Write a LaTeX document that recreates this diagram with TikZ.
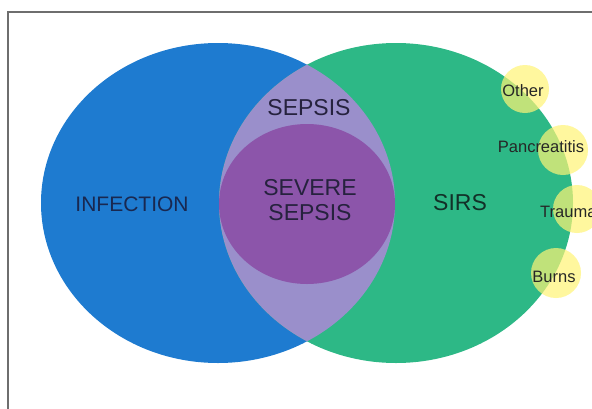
\documentclass[tikz,border=0pt]{standalone}
\usepackage{fontspec}
\setmainfont{Liberation Sans}
\definecolor{infblue}{RGB}{30,123,208}
\definecolor{sirsgreen}{RGB}{45,184,134}
\definecolor{lav}{RGB}{154,143,203}
\definecolor{sevpurple}{RGB}{140,85,170}
\definecolor{yel}{RGB}{255,244,117}
\definecolor{framegray}{RGB}{110,110,110}
\definecolor{txtdark}{RGB}{38,34,62}
\definecolor{txtgreen}{RGB}{18,48,40}
\begin{document}
\begin{tikzpicture}[x=1pt,y=-1pt,
  bigtxt/.style={font=\fontsize{23}{25}\selectfont, text=txtdark, align=center, inner sep=0pt},
  smalltxt/.style={font=\fontsize{16.5}{18}\selectfont, text=black!85, inner sep=0pt},
  bubble/.style={fill=yel, fill opacity=0.7, draw=none}]
\useasboundingbox (0,0) rectangle (592,408);
\fill[white] (0,0) rectangle (592,408);
% frame
\draw[framegray, line width=1.2pt] (8,410) -- (8,12) -- (594,12);
% infection
\fill[infblue] (218,203) ellipse [x radius=177, y radius=160];
% sirs
\fill[sirsgreen] (396,203) ellipse [x radius=177, y radius=160];
% sepsis lens
\begin{scope}
  \clip (218,203) ellipse [x radius=177, y radius=160];
  \fill[lav] (396,203) ellipse [x radius=177, y radius=160];
\end{scope}
% severe sepsis
\fill[sevpurple] (307,204) ellipse [x radius=88, y radius=80];
% bubbles
\node[bubble, circle, minimum size=48pt] (cOther) at (525,89) {};
\node[bubble, circle, minimum size=50pt] (cPanc) at (563,150) {};
\node[bubble, circle, minimum size=48pt] (cTrauma) at (577,209) {};
\node[bubble, circle, minimum size=50pt] (cBurns) at (556,273) {};
% labels
\node[bigtxt, font=\fontsize{21}{25}\selectfont, text={rgb,255:red,25;green,40;blue,80}] (infection) at (132,204) {INFECTION};
\node[bigtxt] (sepsis) at (309,108) {SEPSIS};
\node[bigtxt] (severe) at (310,200) {SEVERE\\SEPSIS};
\node[bigtxt, text=txtgreen] (sirs) at (460,203) {SIRS};
\node[smalltxt] (other) at (523,91) {Other};
\node[smalltxt] (panc) at (541,147) {Pancreatitis};
\node[smalltxt, anchor=west] (trauma) at (540,212) {Trauma};
\node[smalltxt] (burns) at (554,277) {Burns};
\end{tikzpicture}
\end{document}
